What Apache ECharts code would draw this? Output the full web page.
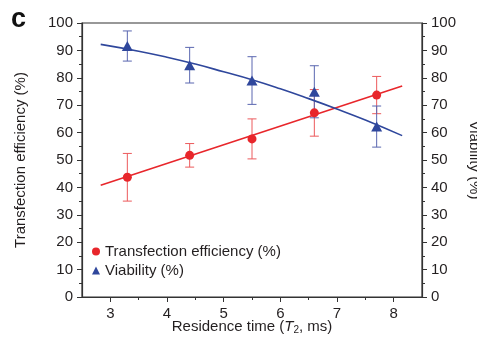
<!DOCTYPE html>
<html>
<head>
<meta charset="utf-8">
<script src="https://cdn.jsdelivr.net/npm/echarts@6/dist/echarts.min.js"></script>
<style>html,body{margin:0;padding:0;background:#fff}#c{width:477px;height:339px}</style>
</head>
<body>
<div id="c"></div>
<script>
const xTicks = [3, 4, 5, 6, 7, 8];
const xMinorTicks = [3.5, 4.5, 5.5, 6.5, 7.5];
const residence = [3.3, 4.4, 5.5, 6.6, 7.7];
const transfection = [43.7, 51.7, 57.7, 67.2, 73.7];
const transfectionErr = [8.7, 4.3, 7.3, 8.5, 6.8];
const viability = [91.6, 84.6, 79.0, 74.9, 62.2];
const viabilityErr = [5.5, 6.5, 8.7, 9.5, 7.5];
const transFitX = [2.83, 8.15];
const transFitY = [40.8, 77.0];
const viaFitX = [2.83, 3.5, 4.0, 4.5, 5.0, 5.5, 6.0, 6.5, 7.0, 7.5, 8.15];
const viaFitY = [92.2, 89.7, 87.5, 85.0, 82.2, 79.3, 76.0, 72.4, 68.6, 64.6, 58.9];

const RED = '#e8262b', RED_ERR = '#ec5a5c';
const BLUE = '#2f479c', BLUE_ERR = '#5a67b0';
const FONT = '"Liberation Sans", Arial, sans-serif';
const TXT = '#231f20';

function errData(xs, ys, es) { return xs.map((x, i) => [x, ys[i] - es[i], ys[i] + es[i]]); }
function errRender(color) {
  return function (params, api) {
    const lo = api.coord([api.value(0), api.value(1)]);
    const hi = api.coord([api.value(0), api.value(2)]);
    const w = 4.5;
    const st = { stroke: color, lineWidth: 1 };
    return { type: 'group', children: [
      { type: 'line', shape: { x1: lo[0], y1: lo[1], x2: hi[0], y2: hi[1] }, style: st },
      { type: 'line', shape: { x1: lo[0] - w, y1: lo[1], x2: lo[0] + w, y2: lo[1] }, style: st },
      { type: 'line', shape: { x1: hi[0] - w, y1: hi[1], x2: hi[0] + w, y2: hi[1] }, style: st }
    ]};
  };
}
const zip = (a, b) => a.map((v, i) => [v, b[i]]);

const chart = echarts.init(document.getElementById('c'), null, { renderer: 'canvas' });
const axisLineStyle = { color: '#333', width: 1.2 };
chart.setOption({
  animation: false,
  textStyle: { fontFamily: FONT },
  grid: { left: 82, right: 55, top: 23, bottom: 42, show: true, borderColor: '#333', borderWidth: 1.2, containLabel: false, outerBoundsMode: 'none' },
  legend: {
    orient: 'vertical', left: 92, top: 244, padding: 0, itemGap: 4,
    itemWidth: 8, itemHeight: 8,
    textStyle: { fontSize: 15, color: TXT, fontFamily: FONT, lineHeight: 15 },
    data: ['Transfection efficiency (%)', 'Viability (%)']
  },
  xAxis: [{
    type: 'value', min: 2.5, max: 8.5, position: 'bottom',
    axisLine: { lineStyle: axisLineStyle },
    splitLine: { show: false },
    axisTick: { show: true, inside: false, length: 5, lineStyle: { color: '#333' }, customValues: xTicks },
    axisLabel: { fontSize: 15, color: TXT, margin: 9, customValues: xTicks, fontFamily: FONT }
  }, {
    type: 'value', min: 2.5, max: 8.5, position: 'bottom',
    axisLine: { show: false }, splitLine: { show: false },
    axisTick: { show: true, length: 3, lineStyle: { color: '#333' }, customValues: xMinorTicks },
    axisLabel: { show: false }
  }],
  yAxis: [{
    type: 'value', min: 0, max: 100, interval: 10, position: 'left',
    axisLine: { show: true, lineStyle: axisLineStyle },
    splitLine: { show: false },
    axisTick: { show: true, length: 5, lineStyle: { color: '#333' } },
    minorTick: { show: true, splitNumber: 2, length: 3, lineStyle: { color: '#333' } },
    axisLabel: { fontSize: 15, color: TXT, margin: 9, fontFamily: FONT },
    name: 'Transfection efficiency (%)', nameLocation: 'middle', nameGap: 54,
    nameTextStyle: { fontSize: 15, color: TXT, fontFamily: FONT }
  }, {
    type: 'value', min: 0, max: 100, interval: 10, position: 'right',
    axisLine: { show: true, lineStyle: axisLineStyle },
    splitLine: { show: false },
    axisTick: { show: true, length: 5, lineStyle: { color: '#333' } },
    minorTick: { show: true, splitNumber: 2, length: 3, lineStyle: { color: '#333' } },
    axisLabel: { fontSize: 15, color: TXT, margin: 9, fontFamily: FONT },
    name: 'Viability (%)', nameLocation: 'middle', nameGap: 41, nameRotate: -90,
    nameTextStyle: { fontSize: 15, color: TXT, fontFamily: FONT }
  }],
  graphic: [{
    type: 'text', left: 11, top: 6,
    style: { text: 'c', fontSize: 27, fontWeight: 'bold', fill: '#111', font: 'bold 27px ' + FONT }
  }, {
    type: 'text', x: 252, y: 327,
    style: {
      text: '{n|Residence time (}{i|T}{s|2}{n|, ms)}',
      align: 'center', verticalAlign: 'middle',
      rich: {
        n: { fontSize: 15, fill: TXT, fontFamily: FONT },
        i: { fontSize: 15, fill: TXT, fontStyle: 'italic', fontFamily: FONT },
        s: { fontSize: 10, fill: TXT, fontFamily: FONT, padding: [6, 0, 0, 0] }
      }
    }
  }],
  series: [
    { type: 'custom', name: 'tErr', renderItem: errRender(RED_ERR), data: errData(residence, transfection, transfectionErr), z: 1, silent: true },
    { type: 'custom', name: 'vErr', renderItem: errRender(BLUE_ERR), data: errData(residence, viability, viabilityErr), z: 1, silent: true },
    { type: 'line', name: 'tFit', data: zip(transFitX, transFitY), showSymbol: false, lineStyle: { color: RED, width: 1.6 }, z: 2, silent: true },
    { type: 'line', name: 'vFit', data: zip(viaFitX, viaFitY), smooth: true, showSymbol: false, lineStyle: { color: BLUE, width: 1.6 }, z: 2, silent: true },
    { type: 'scatter', name: 'Transfection efficiency (%)', data: zip(residence, transfection), symbol: 'circle', symbolSize: 9, itemStyle: { color: RED, opacity: 1 }, z: 3 },
    { type: 'scatter', name: 'Viability (%)', data: zip(residence, viability), symbol: 'triangle', symbolSize: [11, 10], itemStyle: { color: BLUE, opacity: 1 }, z: 3 }
  ]
});
</script>
</body>
</html>
